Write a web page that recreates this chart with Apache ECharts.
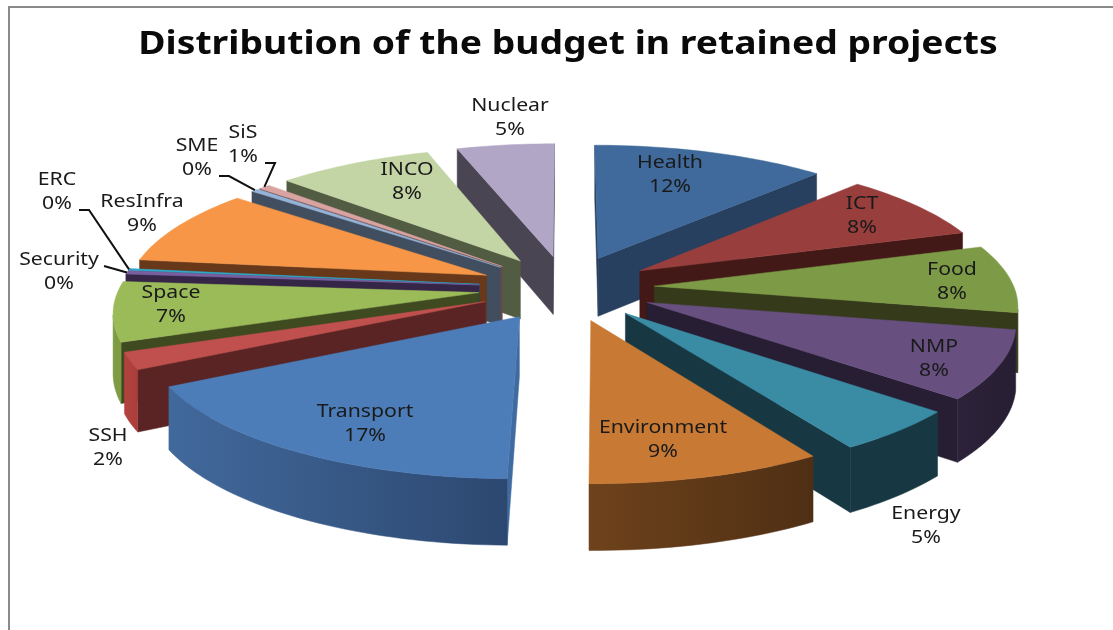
<!DOCTYPE html>
<html>
<head>
<meta charset="utf-8">
<title>Distribution of the budget in retained projects</title>
<script src="https://cdn.jsdelivr.net/npm/echarts@6/dist/echarts.min.js"></script>
<style>
html, body { margin: 0; padding: 0; background: #fff; }
#container { width: 1113px; height: 630px; }
</style>
</head>
<body>
<div id="container"></div>
<script>
// data, clockwise from 12 o'clock
var names = ["Health", "ICT", "Food", "NMP", "Energy", "Environment", "Transport", "SSH", "Space", "Security", "ERC", "ResInfra", "SME", "SiS", "INCO", "Nuclear"];
var budget = [12, 8, 8, 8, 5, 9, 17, 2, 7, 0.4, 0.2, 9, 0.4, 0.6, 8, 5];

var topColors = ["#3f6a9b", "#983f3d", "#7d9a46", "#674f7f", "#3a8ba4", "#c87a35", "#4d7db9", "#c0504d", "#9bbb59", "#7b5ea0", "#2fa8c8", "#f79646", "#95b3d7", "#d9a3a1", "#c3d5a4", "#b2a6c6"];
var wallColors = ["#28405f", "#421917", "#353b1a", "#271e33", "#173742", "#4f2f14", "#3f6ba0", "#5a2424", "#3f4a20", "#352648", "#1c6a80", "#67391a", "#414e60", "#6a4a49", "#525c42", "#4a4553"];
// rim colour, left = lighter end, right = darker end
var rimColors = [["#28405f", "#28405f"], ["#421917", "#421917"], ["#353b1a", "#353b1a"], ["#2c2239", "#271e33"], ["#173742", "#173742"], ["#6e421b", "#4f2f14"], ["#42699c", "#2c4870"], ["#b5423f", "#a83e3b"], ["#7f9c45", "#7f9c45"], ["#352648", "#352648"], ["#1c6a80", "#1c6a80"], ["#67391a", "#67391a"], ["#414e60", "#414e60"], ["#6a4a49", "#6a4a49"], ["#525c42", "#525c42"], ["#4a4553", "#4a4553"]];

// text centres and leader lines, in pixels
var labelXY = {
    Health: [670, 175], ICT: [862, 216], Food: [952, 282], NMP: [934, 359], Energy: [926, 526],
    Environment: [663, 440], Transport: [365, 424], SSH: [108, 448], Space: [171, 305], Security: [59, 272],
    ResInfra: [142, 214], ERC: [57, 192], SME: [197, 158], SiS: [243, 145], INCO: [407, 182], Nuclear: [510, 118]
};
var leaderFrom = {
    Security: [[104, 266]],
    ERC: [[79, 210], [89, 210]],
    SME: [[219, 176], [229, 176]],
    SiS: [[265, 163], [275, 163]]
};

// pie geometry: plane with a perspective camera
var CX = 566.5, CY = 288, R = 360, DIST = 2900, HEIGHT = 1080, EXPLODE = 88;
var FONT = '"Noto Sans", sans-serif';

var total = budget.reduce(function (a, b) { return a + b; }, 0);
var slices = [];
var acc = 0;
for (var i = 0; i < names.length; i++) {
    var a0 = acc / total * 2 * Math.PI;
    acc += budget[i];
    var a1 = acc / total * 2 * Math.PI;
    var mid = (a0 + a1) / 2;
    slices.push({ a0: a0, a1: a1, mid: mid, ox: EXPLODE * Math.sin(mid), oy: EXPLODE * Math.cos(mid) });
}

// back slices get painted first
var order = slices.map(function (s, k) { return k; }).sort(function (p, q) {
    return slices[q].oy - slices[p].oy;
});
var rank = [];
order.forEach(function (k, pos) { rank[k] = pos; });

function project(x, y) {
    var s = DIST / (DIST + y);
    return { x: CX + x * s, y: CY + HEIGHT * (s - 1), s: s };
}
function upperPt(p) { return [p.x, p.y]; }
function lowerPt(p) { return [p.x, p.y + 16 + 43 * p.s]; }

function rimPoint(sl, t) {
    return { x: sl.ox + R * Math.sin(t), y: sl.oy + R * Math.cos(t) };
}

function polygon(points, fill, z2) {
    return { type: "polygon", shape: { points: points }, z2: z2, style: { fill: fill, stroke: fill, lineWidth: 0.5 } };
}

function radialWall(sl, t, color, z2) {
    var c = project(sl.ox, sl.oy);
    var q = rimPoint(sl, t);
    var e = project(q.x, q.y);
    return polygon([upperPt(c), upperPt(e), lowerPt(e), lowerPt(c)], color, z2);
}

function renderSlice(params, api) {
    var i = params.dataIndex;
    var sl = slices[i];
    var z = rank[i] * 10 + 1;
    var children = [];
    var apex = project(sl.ox, sl.oy);

    // radial walls: only the ones facing the camera
    var nStart = sl.ox * Math.cos(sl.a0) - (DIST + sl.oy) * Math.sin(sl.a0);
    var nEnd = -sl.ox * Math.cos(sl.a1) + (DIST + sl.oy) * Math.sin(sl.a1);
    if (nStart > 0) children.push(radialWall(sl, sl.a0, wallColors[i], z));
    if (nEnd > 0) children.push(radialWall(sl, sl.a1, wallColors[i], z));

    // rim
    var steps = Math.max(4, Math.ceil((sl.a1 - sl.a0) * 40));
    var face = [upperPt(apex)];
    var upper = [], lower = [];
    for (var k = 0; k <= steps; k++) {
        var t = sl.a0 + (sl.a1 - sl.a0) * k / steps;
        var q = rimPoint(sl, t);
        var p = project(q.x, q.y);
        face.push(upperPt(p));
        var facing = -q.x * Math.sin(t) + (-DIST - q.y) * Math.cos(t);
        if (facing > 0) {
            upper.push(upperPt(p));
            lower.unshift(lowerPt(p));
        }
    }
    if (upper.length > 1) {
        var rc = rimColors[i];
        children.push(polygon(upper.concat(lower), {
            type: "linear", x: 0, y: 0, x2: 1, y2: 0,
            colorStops: [{ offset: 0, color: rc[0] }, { offset: 1, color: rc[1] }]
        }, z + 1));
    }
    children.push(polygon(face, topColors[i], z + 2));

    // label, stretched a bit like the original
    var xy = labelXY[names[i]];
    children.push({
        type: "text", z2: 1000, x: xy[0], y: xy[1], scaleX: 1.18,
        style: {
            x: 0, y: 0, text: names[i] + "\n" + Math.round(budget[i]) + "%",
            align: "center", verticalAlign: "middle", fontFamily: FONT, fontSize: 18, lineHeight: 24, fill: "#1a1a1a"
        }
    });

    // leader line to the slice's rim
    if (leaderFrom[names[i]]) {
        var m = rimPoint(sl, sl.mid);
        var end = project(m.x, m.y);
        children.push({
            type: "polyline", z2: 1001,
            shape: { points: leaderFrom[names[i]].concat([upperPt(end)]) },
            style: { stroke: "#111", lineWidth: 2, fill: null }
        });
    }
    return { type: "group", children: children };
}

var myChart = echarts.init(document.getElementById("container"));
myChart.setOption({
    backgroundColor: "#fff",
    animation: false,
    graphic: [{
        type: "polyline", silent: true,
        shape: { points: [[9, 630], [9, 7], [1113, 7]] },
        style: { stroke: "#8a8a8a", lineWidth: 2, fill: null }
    }, {
        type: "text", silent: true, x: 568, y: 45, scaleX: 1.13,
        style: {
            x: 0, y: 0, text: "Distribution of the budget in retained projects",
            align: "center", verticalAlign: "middle", fontFamily: FONT, fontSize: 33, fontWeight: "bold", fill: "#0a0a0a"
        }
    }],
    series: [{
        type: "custom",
        coordinateSystem: "none",
        renderItem: renderSlice,
        data: budget
    }]
});
</script>
</body>
</html>
